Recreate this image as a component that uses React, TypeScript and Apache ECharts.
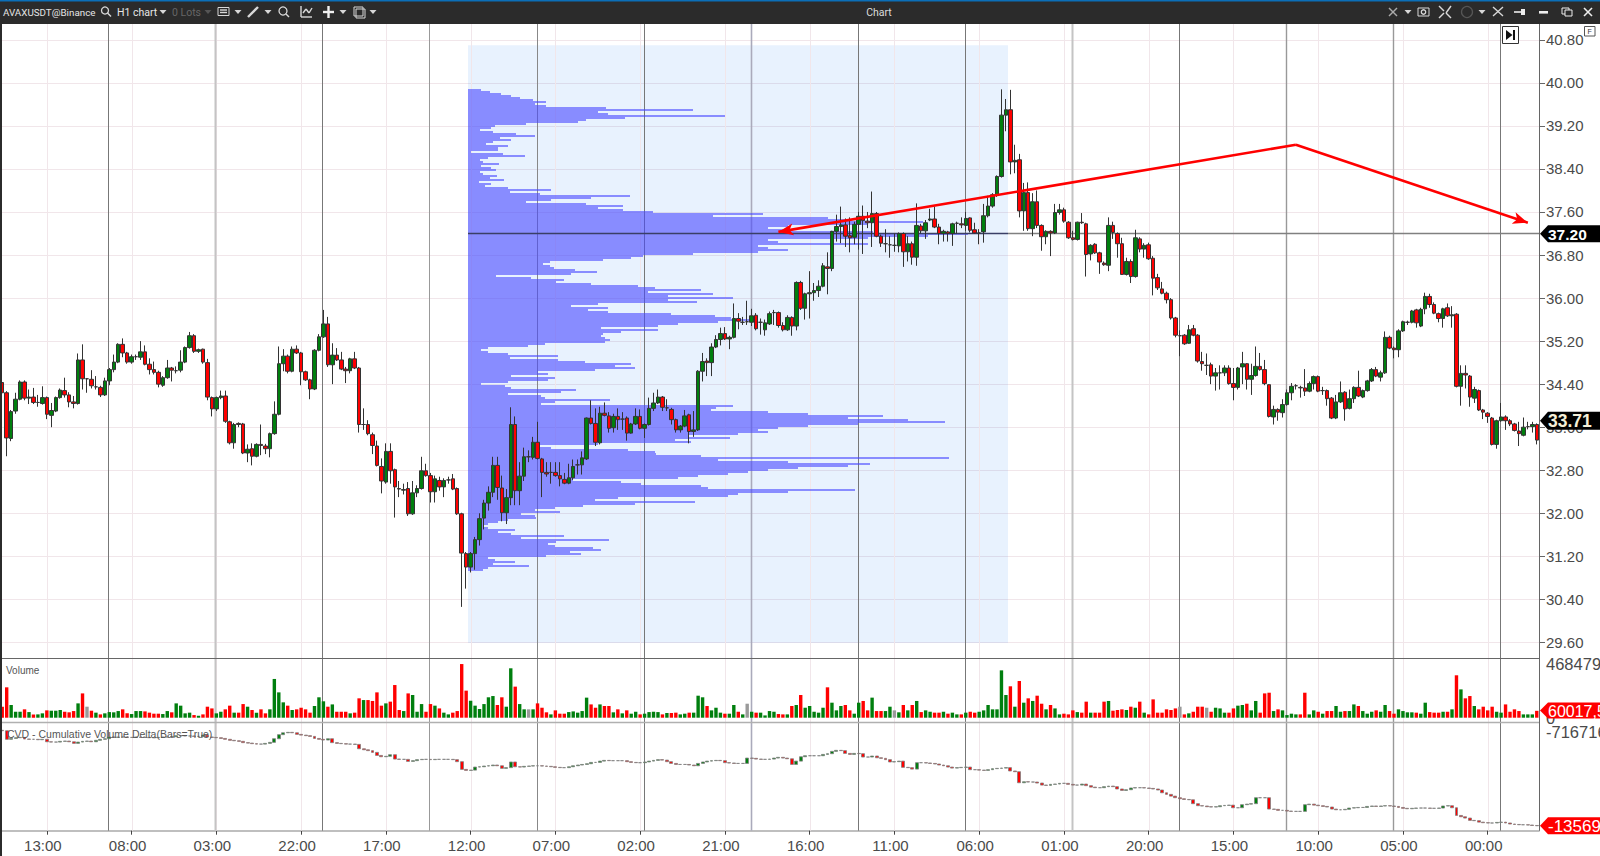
import React, { useEffect, useRef } from "react";
import * as echarts from "echarts";

const opens = [
34.43,34.24,33.39,33.90,34.12,34.44,34.14,34.16,34.06,34.04,
34.15,33.82,33.90,34.15,34.28,34.20,34.07,34.04,34.85,34.50,
34.49,34.35,34.34,34.20,34.46,34.67,34.81,35.14,34.98,34.81,
34.91,34.90,35.00,34.77,34.67,34.62,34.38,34.52,34.70,34.65,
34.66,34.81,35.08,35.30,35.01,35.05,34.80,34.15,33.94,34.15,
34.18,33.70,33.31,33.67,33.66,33.12,33.20,33.06,33.28,33.25,
33.20,33.48,33.84,34.78,34.92,34.64,35.05,34.98,34.63,34.48,
34.31,35.03,35.28,35.52,34.76,34.94,34.85,34.68,34.65,34.87,
34.70,33.65,33.65,33.46,33.25,32.87,32.58,33.15,32.81,32.46,
32.43,32.46,31.99,32.38,32.46,32.79,32.70,32.40,32.61,32.49,
32.62,32.64,32.46,31.99,31.25,31.00,31.25,31.51,31.91,32.19,
32.39,32.89,32.47,32.01,32.29,33.65,32.42,32.69,33.05,33.04,
33.32,33.01,32.76,32.76,32.76,32.70,32.63,32.56,32.66,32.90,
32.90,33.01,33.77,33.67,33.31,33.86,33.81,33.59,33.80,33.75,
33.77,33.49,33.66,33.80,33.58,33.65,33.95,34.05,34.16,33.96,
33.93,33.74,33.55,33.62,33.83,33.52,33.55,34.64,34.83,34.80,
35.09,35.23,35.34,35.24,35.27,35.62,35.55,35.56,35.55,35.68,
35.55,35.41,35.52,35.73,35.73,35.49,35.41,35.64,35.48,36.29,
35.81,36.08,36.10,36.14,36.22,36.58,36.55,37.24,37.33,37.36,
37.16,37.13,37.37,37.52,37.43,37.40,37.57,37.15,37.01,36.99,
36.98,36.97,37.20,36.86,37.01,36.76,37.34,37.25,37.45,37.47,
37.32,37.20,37.23,37.20,37.39,37.38,37.35,37.49,37.27,37.21,
37.23,37.53,37.71,37.92,38.26,39.40,39.50,38.53,38.57,37.62,
37.96,37.29,37.79,37.35,37.14,37.24,37.21,37.59,37.64,37.41,
37.12,37.09,37.41,37.38,36.82,37.00,36.84,36.65,36.61,37.35,
37.20,37.01,36.44,36.68,36.40,37.10,36.91,36.99,36.74,36.38,
36.17,36.09,35.97,35.63,35.30,35.31,35.16,35.43,35.31,34.82,
34.75,34.76,34.55,34.61,34.61,34.70,34.41,34.34,34.72,34.78,
34.49,34.56,34.73,34.67,34.39,33.79,33.93,33.87,34.02,34.24,
34.37,34.34,34.33,34.27,34.41,34.54,34.28,34.28,34.14,33.77,
34.07,34.25,33.95,34.13,34.34,34.16,34.28,34.46,34.67,34.53,
34.61,35.27,35.07,35.04,35.39,35.55,35.55,35.78,35.48,35.80,
36.03,35.88,35.71,35.62,35.82,35.67,35.70,34.36,34.60,34.55,
34.14,34.28,33.92,33.86,33.77,33.28,33.72,33.79,33.72,33.66,
33.53,33.45,33.61,33.61,33.65];

const closes = [
34.24,33.40,33.89,34.12,34.44,34.14,34.16,34.06,34.06,34.15,
33.84,33.91,34.15,34.29,34.20,34.07,34.04,34.85,34.50,34.50,
34.37,34.35,34.20,34.46,34.67,34.81,35.14,34.98,34.81,34.91,
34.91,35.00,34.77,34.67,34.62,34.40,34.52,34.70,34.66,34.65,
34.81,35.08,35.30,35.01,35.04,34.81,34.16,33.94,34.15,34.18,
33.71,33.31,33.65,33.65,33.12,33.19,33.06,33.28,33.26,33.20,
33.48,33.84,34.78,34.92,34.64,35.05,34.98,34.63,34.48,34.31,
35.03,35.28,35.52,34.76,34.94,34.85,34.68,34.65,34.87,34.70,
33.65,33.65,33.48,33.26,32.89,32.60,33.15,32.79,32.49,32.45,
32.44,31.99,32.38,32.46,32.79,32.70,32.40,32.64,32.49,32.61,
32.62,32.45,31.99,31.26,31.00,31.25,31.51,31.90,32.19,32.39,
32.89,32.48,32.01,32.29,33.65,32.42,32.69,33.05,33.05,33.32,
33.02,32.76,32.73,32.76,32.70,32.64,32.56,32.66,32.87,32.90,
33.03,33.77,33.67,33.32,33.86,33.82,33.58,33.80,33.74,33.75,
33.49,33.66,33.80,33.58,33.65,33.95,34.05,34.16,33.97,33.96,
33.74,33.55,33.62,33.81,33.52,33.55,34.64,34.82,34.80,35.09,
35.23,35.34,35.24,35.27,35.62,35.57,35.55,35.56,35.67,35.43,
35.55,35.54,35.71,35.73,35.49,35.41,35.64,35.48,36.29,35.81,
36.08,36.10,36.14,36.22,36.60,36.55,37.24,37.33,37.36,37.15,
37.12,37.37,37.52,37.44,37.40,37.57,37.15,37.02,37.01,36.99,
36.98,37.20,36.86,37.01,36.76,37.35,37.25,37.40,37.47,37.32,
37.20,37.24,37.20,37.38,37.39,37.36,37.48,37.26,37.21,37.21,
37.53,37.71,37.92,38.26,39.40,39.50,38.53,38.56,37.62,37.96,
37.29,37.79,37.35,37.14,37.24,37.21,37.59,37.64,37.43,37.12,
37.09,37.41,37.40,36.81,36.98,36.84,36.67,36.62,37.35,37.22,
37.01,36.44,36.68,36.40,37.12,36.91,36.98,36.73,36.37,36.19,
36.09,35.97,35.63,35.31,35.30,35.15,35.41,35.31,34.83,34.78,
34.75,34.55,34.61,34.61,34.70,34.41,34.34,34.70,34.78,34.49,
34.56,34.73,34.67,34.41,33.80,33.93,33.88,34.02,34.24,34.36,
34.37,34.33,34.27,34.41,34.54,34.27,34.28,34.13,33.77,34.07,
34.24,33.94,34.13,34.34,34.18,34.28,34.46,34.67,34.55,34.61,
35.27,35.07,35.04,35.39,35.56,35.55,35.76,35.54,35.79,36.03,
35.88,35.72,35.62,35.80,35.67,35.69,34.36,34.60,34.57,34.16,
34.30,33.92,33.88,33.80,33.28,33.72,33.79,33.72,33.66,33.54,
33.48,33.60,33.61,33.65,33.36];

const highs = [
34.65,34.27,33.92,34.24,34.47,34.47,34.30,34.33,34.20,34.36,
34.17,34.05,34.17,34.32,34.52,34.25,34.18,34.97,35.14,34.51,
34.66,34.55,34.37,34.52,34.70,34.95,35.16,35.25,35.00,34.95,
34.95,35.20,35.12,34.88,34.82,34.65,34.55,34.85,34.72,34.73,
35.03,35.10,35.37,35.33,35.06,35.06,34.87,34.17,34.17,34.28,
34.28,33.72,33.68,33.69,33.68,33.28,33.30,33.30,33.65,33.29,
33.50,34.08,35.10,35.05,34.95,35.10,35.12,35.00,34.65,34.50,
35.05,35.33,35.78,35.65,35.16,35.07,35.00,34.72,34.89,35.00,
34.72,33.95,33.73,33.50,33.35,33.02,33.30,33.30,32.83,32.60,
32.55,32.58,32.60,32.52,33.05,32.92,32.75,32.70,32.68,32.65,
32.68,32.73,32.48,32.01,31.28,31.28,31.56,32.00,32.25,32.50,
33.05,33.05,32.70,32.45,33.97,33.80,32.95,33.22,33.17,33.42,
33.70,33.03,32.95,32.95,32.95,32.95,32.75,32.92,33.00,33.00,
33.15,33.78,34.10,33.95,33.98,34.06,33.88,33.85,33.95,33.88,
33.80,33.68,33.95,33.93,33.67,34.15,34.24,34.30,34.18,34.12,
33.96,33.76,33.64,33.92,33.85,33.90,34.66,34.98,34.88,35.16,
35.31,35.45,35.46,35.30,35.90,35.72,35.65,35.95,35.80,35.72,
35.62,35.60,35.75,35.78,35.75,35.55,35.68,35.66,36.31,36.32,
36.10,36.50,36.28,36.33,36.65,36.85,37.25,37.55,37.70,37.48,
37.50,37.42,37.60,37.72,37.60,37.98,37.60,37.18,37.28,37.15,
37.20,37.22,37.22,37.15,37.05,37.76,37.38,37.45,37.66,37.70,
37.38,37.27,37.25,37.40,37.42,37.50,37.60,37.50,37.40,37.28,
37.75,37.90,37.95,38.28,39.88,39.70,39.87,38.85,38.68,38.14,
38.15,37.95,38.00,37.37,37.26,37.26,37.75,37.75,37.68,37.43,
37.25,37.42,37.58,37.40,37.00,37.02,36.86,36.68,37.50,37.42,
37.22,37.12,36.75,36.72,37.27,37.13,37.02,37.03,36.78,36.45,
36.30,36.12,36.00,35.65,35.40,35.33,35.50,35.50,35.33,35.00,
34.97,34.80,34.70,34.75,34.75,34.75,34.70,34.72,35.00,34.79,
34.78,35.10,34.98,34.85,34.40,34.00,33.95,34.12,34.30,34.42,
34.40,34.37,34.68,34.45,34.56,34.56,34.35,34.30,34.16,34.20,
34.45,34.27,34.30,34.36,34.65,34.30,34.48,34.70,34.72,34.65,
35.38,35.30,35.10,35.42,35.58,35.58,35.78,35.80,35.82,36.10,
36.08,35.92,35.73,35.82,35.90,35.85,35.72,34.75,34.75,34.57,
34.35,34.30,33.94,33.88,33.79,33.74,34.05,33.82,33.75,33.68,
33.70,33.78,33.70,33.70,33.67];

const lows = [
34.20,33.06,33.34,33.85,34.10,34.10,34.03,34.03,33.98,34.02,
33.75,33.60,33.88,34.13,34.15,33.97,33.95,34.02,34.30,34.24,
34.32,34.30,34.16,34.18,34.38,34.62,34.79,34.90,34.78,34.78,
34.85,34.85,34.75,34.58,34.58,34.34,34.35,34.50,34.45,34.60,
34.62,34.79,35.06,34.98,34.98,34.78,34.10,33.80,33.90,34.12,
33.68,33.28,33.20,33.60,33.10,32.95,32.89,33.04,33.08,33.10,
33.04,33.46,33.82,34.64,34.60,34.62,34.96,34.38,34.46,34.12,
34.29,35.01,35.26,34.72,34.40,34.83,34.66,34.42,34.60,34.68,
33.50,33.55,33.45,33.10,32.87,32.37,32.55,32.55,31.92,32.30,
32.35,31.95,31.97,32.30,32.44,32.68,32.20,32.20,32.42,32.30,
32.55,32.43,31.97,30.26,30.60,30.90,30.95,31.40,31.70,32.05,
32.30,32.25,31.85,31.80,32.15,32.15,32.15,32.60,32.95,33.00,
33.00,32.30,32.68,32.55,32.68,32.50,32.54,32.54,32.62,32.72,
32.72,32.99,33.65,33.25,33.28,33.80,33.50,33.50,33.55,33.55,
33.35,33.48,33.64,33.56,33.40,33.63,33.90,34.03,33.90,33.90,
33.65,33.50,33.50,33.60,33.30,33.42,33.53,34.45,34.55,34.55,
35.07,35.12,35.22,35.05,35.25,35.42,35.50,35.50,35.48,35.40,
35.32,35.30,35.50,35.50,35.45,35.38,35.39,35.30,35.40,35.78,
35.60,35.62,35.95,36.02,36.20,36.07,36.50,37.05,37.02,36.95,
36.85,37.00,36.90,36.82,37.30,36.95,37.13,36.95,36.85,36.75,
36.86,36.85,36.58,36.68,36.62,36.60,37.20,37.10,37.43,37.30,
37.00,37.05,37.05,36.97,37.20,37.30,37.25,37.22,37.20,37.00,
37.03,37.50,37.68,37.88,38.24,39.10,38.30,38.32,37.50,37.25,
37.25,37.15,37.30,36.88,37.00,36.78,37.19,37.55,37.40,37.10,
37.07,37.07,37.38,36.40,36.70,36.82,36.45,36.60,36.50,37.10,
36.75,36.43,36.42,36.28,36.38,36.85,36.75,36.71,36.05,36.15,
36.07,35.90,35.60,35.27,34.92,35.13,35.15,35.29,34.80,34.65,
34.57,34.40,34.28,34.30,34.55,34.39,34.10,34.30,34.40,34.30,
34.20,34.54,34.65,34.38,33.78,33.65,33.72,33.78,34.00,34.10,
34.30,34.15,34.18,34.25,34.30,34.25,34.20,34.00,33.75,33.75,
34.05,33.72,33.93,34.05,34.16,34.14,34.26,34.44,34.53,34.45,
34.59,35.05,34.88,34.90,35.37,35.50,35.53,35.45,35.46,35.70,
35.82,35.70,35.55,35.45,35.65,35.45,34.34,34.00,34.32,33.98,
34.05,33.90,33.75,33.68,33.26,33.20,33.70,33.55,33.62,33.52,
33.25,33.43,33.56,33.50,33.28];

// thousands of contracts
const volumesK = [
96,265,111,52,52,73,49,29,29,38,
64,61,61,67,52,47,58,125,212,96,
61,44,29,38,49,47,58,73,38,32,
58,58,55,44,35,35,32,58,47,125,
105,38,44,23,17,29,96,81,38,52,
73,105,44,44,119,96,67,44,73,38,
73,338,221,134,105,67,73,87,73,44,
102,178,143,96,116,52,52,52,38,44,
169,154,154,146,221,105,125,140,285,67,
58,212,198,52,119,52,119,105,81,44,
29,44,58,468,236,148,105,76,119,178,
189,111,178,96,431,271,119,73,73,73,
125,87,47,29,64,35,35,49,55,44,
58,175,116,87,116,102,102,47,73,38,
64,35,52,29,35,49,52,49,29,41,
41,44,29,35,44,44,192,178,102,64,
87,44,35,35,111,52,29,122,52,44,
44,20,58,52,32,29,29,102,111,198,
87,102,52,44,87,265,131,64,102,111,
64,35,131,146,64,175,58,58,58,96,
64,47,111,64,111,146,49,64,52,44,
44,52,35,44,29,29,44,52,44,52,
64,111,73,73,413,198,274,96,320,131,
169,146,192,122,73,111,81,29,35,29,
64,49,44,140,44,44,44,140,146,61,
67,73,67,96,87,140,44,29,160,44,
44,73,67,81,96,29,38,52,96,96,
87,52,87,81,44,44,81,105,111,122,
64,146,44,212,218,58,73,64,23,35,
29,29,218,29,64,52,35,58,58,102,
52,58,58,116,102,58,35,52,64,52,
111,58,35,73,58,47,47,44,35,131,
49,44,44,52,52,73,370,247,169,189,
102,73,96,64,96,52,44,116,52,73,
58,29,29,29,60];

const greyVolumeBars = [19, 118, 167, 200, 264, 270];

// cumulative delta at each bar's close, in thousands
const cvdCloseK = [
-708,-767,-761,-756,-754,-765,-767,-767,-770,-767,
-784,-786,-786,-781,-779,-784,-795,-786,-781,-779,
-784,-774,-767,-763,-751,-754,-751,-751,-754,-754,
-751,-754,-754,-756,-756,-754,-751,-751,-749,-742,
-742,-744,-744,-747,-747,-738,-751,-754,-756,-761,
-767,-774,-777,-781,-790,-793,-797,-800,-800,-795,
-788,-763,-735,-722,-719,-722,-733,-738,-742,-747,
-761,-767,-772,-763,-790,-795,-797,-800,-800,-802,
-832,-839,-845,-857,-878,-887,-884,-873,-903,-905,
-905,-919,-914,-907,-905,-905,-907,-905,-905,-905,
-905,-907,-921,-974,-981,-979,-958,-956,-951,-949,
-944,-949,-967,-962,-923,-956,-958,-953,-951,-949,
-949,-951,-953,-956,-960,-962,-962,-956,-949,-944,
-940,-935,-926,-926,-917,-912,-914,-914,-914,-914,
-921,-926,-928,-928,-923,-917,-912,-907,-910,-921,
-933,-940,-940,-940,-944,-949,-933,-923,-917,-914,
-912,-914,-928,-930,-933,-933,-933,-896,-898,-903,
-905,-905,-903,-896,-891,-896,-901,-940,-917,-887,
-880,-880,-880,-880,-871,-866,-850,-843,-845,-864,
-871,-864,-866,-889,-889,-882,-894,-898,-907,-923,
-921,-917,-960,-962,-972,-928,-928,-930,-933,-937,
-944,-949,-958,-965,-962,-960,-958,-976,-976,-979,
-981,-976,-969,-967,-965,-962,-985,-990,-1066,-1059,
-1061,-1061,-1068,-1082,-1084,-1077,-1075,-1070,-1070,-1077,
-1082,-1082,-1075,-1086,-1096,-1100,-1100,-1093,-1089,-1093,
-1109,-1119,-1114,-1102,-1100,-1100,-1102,-1105,-1109,-1116,
-1135,-1146,-1158,-1169,-1176,-1181,-1183,-1210,-1224,-1226,
-1231,-1233,-1231,-1224,-1222,-1220,-1238,-1238,-1217,-1213,
-1210,-1169,-1169,-1169,-1247,-1249,-1256,-1256,-1261,-1263,
-1263,-1263,-1217,-1213,-1220,-1224,-1229,-1233,-1247,-1252,
-1252,-1249,-1240,-1238,-1236,-1236,-1229,-1226,-1229,-1226,
-1224,-1226,-1229,-1236,-1242,-1245,-1242,-1240,-1240,-1240,
-1242,-1242,-1240,-1226,-1224,-1238,-1291,-1300,-1309,-1325,
-1327,-1337,-1341,-1343,-1343,-1339,-1337,-1343,-1350,-1353,
-1355,-1355,-1357,-1360,-1362];

// Volume profile: width of each price row, from the top of the profile downwards
const profileWidths = [
13,22,33,43,52,65,78,67,78,138,225,130,140,257,157,118,110,58,27,23,
12,25,48,67,32,43,25,18,40,30,30,3,35,57,20,12,15,31,13,23,
28,12,15,29,22,36,11,23,17,40,83,42,72,162,123,83,58,118,155,130,
155,185,295,245,360,380,455,400,320,300,320,405,500,460,400,300,310,400,290,300,
320,290,225,175,163,135,82,75,82,86,107,129,103,28,63,96,88,123,170,187,
233,180,245,200,265,200,229,130,103,140,120,140,203,247,263,290,
250,210,190,133,190,153,135,133,137,142,137,77,60,20,13,20,40,90,42,90,
117,163,147,167,127,70,80,43,87,80,40,13,37,43,108,93,40,73,77,142,
87,73,265,248,243,300,340,415,380,440,477,390,340,310,290,300,270,220,262,207,
223,130,70,83,160,187,188,233,481,250,320,402,380,330,300,280,260,230,210,105,
153,173,233,240,387,320,270,260,150,127,227,167,115,87,67,92,53,67,68,40,
30,20,15,20,47,30,43,96,53,141,88,80,87,125,133,102,113,78,20,27,
47,25,61,20,15];
const profileTopPrice = 39.868;
const profileRowStep = 0.03717;
const profileSpan = 540;
const profileBoxTop = 40.70;
const profileBoxBottom = 29.59;
const pocPrice = 37.2;

const priceTicks = [29.6,30.4,31.2,32.0,32.8,33.6,34.4,35.2,36.0,36.8,37.6,38.4,39.2,40.0,40.8];
const priceMin = 29.31;
const priceMax = 41.094;
const timeTickBars = [10,29,48,67,86,105,124,143,162,181,200,219,238,257,276,295,314,333];
const timeTickLabels = ["13:00","08:00","03:00","22:00","17:00","12:00","07:00","02:00","21:00","16:00","11:00","06:00","01:00","20:00","15:00","10:00","05:00","00:00"];
const dayLineBars = [24,48,72,96,120,144,168,192,216,240,264,288,312,336];
const dayLineColors = ["#777","#c4c4c4","#777","#999","#888","#777","#aab","#777","#777","#c4c4c4","#777","#999","#999","#777"];
const dayLineWidths = [1,2,1,1,1,1,1.6,1,1,2,1,1.4,1.4,1];
const arrowA = [174, 37.23];
const arrowB = [290, 38.85];
const arrowC = [342, 37.40];

const UP = "#007f0e";
const DOWN = "#ff0000";
const TEXT = "#4a4a4a";

const categories = opens.map((_, i) => {
  const k = timeTickBars.indexOf(i);
  return k >= 0 ? timeTickLabels[k] : String(i);
});

function verticals(g: number, yRef: number, z: number) {
  const items: any[] = [];
  timeTickBars.forEach((b) => items.push([b, yRef, "#f1e6ea", 1, 0]));
  dayLineBars.forEach((b, k) => items.push([b, yRef, dayLineColors[k], dayLineWidths[k], -1]));
  return {
    type: "custom",
    xAxisIndex: g,
    yAxisIndex: g,
    silent: true,
    z,
    encode: { x: 0, y: 1 },
    data: items.map((d) => d.slice(0, 2)),
    renderItem: (params: any, api: any) => {
      const d = items[params.dataIndex];
      const x = Math.round(api.coord([api.value(0), api.value(1)])[0] + d[4]) + 0.5;
      const cs = params.coordSys;
      return {
        type: "line",
        shape: { x1: x, y1: cs.y, x2: x, y2: cs.y + cs.height },
        style: { stroke: d[2], lineWidth: d[3] },
      };
    },
  };
}

function chromeElements() {
  const els: any[] = [];
  const C = "#d8d8d8";
  const tri = (x: number, c = C) =>
    els.push({ type: "polygon", z: 200, shape: { points: [[x - 3.5, 10], [x + 3.5, 10], [x, 14]] }, style: { fill: c } });
  const rect = (x: number, y: number, w: number, h: number, fill: string, z = 200, stroke?: string) =>
    els.push({ type: "rect", z, shape: { x, y, width: w, height: h }, style: { fill, stroke } });
  const line = (x1: number, y1: number, x2: number, y2: number, c = C, w = 1.4, z = 200) =>
    els.push({ type: "line", z, shape: { x1, y1, x2, y2 }, style: { stroke: c, lineWidth: w } });
  const circ = (cx: number, cy: number, r: number, c = C) =>
    els.push({ type: "circle", z: 200, shape: { cx, cy, r }, style: { fill: "none", stroke: c, lineWidth: 1.3 } });
  const label = (text: string, x: number, y: number, fill: string, size: number, extra: any = {}) =>
    els.push({ type: "text", z: 200, x, y, style: { text, fill, font: `${size}px Roboto, sans-serif`, textVerticalAlign: "middle", ...extra } });

  rect(0, 0, 1600, 24, "#2b2b2b", 190);
  rect(0, 0, 1600, 1.5, "#0b6fb8", 191);
  rect(0, 24, 2, 832, "#2b2b2b", 190);

  label("AVAXUSDT@Binance", 3, 12, "#e6e6e6", 9.8);
  circ(105, 10.5, 3.5); line(107.5, 13, 111, 16.5);
  label("H1 chart", 117, 12, "#e6e6e6", 10.5);
  tri(163);
  label("0 Lots", 172, 12, "#666666", 10.5);
  tri(208, "#555");
  rect(218, 7.5, 11, 8, "none", 200, C); line(220, 10, 227, 10); line(220, 12.5, 227, 12.5);
  tri(238);
  line(248, 17, 258, 7, C, 2.4);
  tri(268);
  circ(283, 11, 4); line(286, 14, 289, 17);
  line(301, 6, 301, 17); line(301, 17, 312, 17); line(303, 13, 306, 9); line(306, 9, 309, 13); line(309, 13, 312, 8);
  line(323, 12, 334, 12, "#f0f0f0", 2.4); line(328.5, 6, 328.5, 18, "#f0f0f0", 2.4);
  tri(343);
  rect(354, 7, 9, 9, "none", 200, C); rect(356, 9, 9, 9, "none", 200, C);
  tri(373);

  label("Chart", 879, 12, "#dcdcdc", 10.5, { textAlign: "center" });

  line(1389, 8, 1397, 16, "#aaa"); line(1397, 8, 1389, 16, "#aaa");
  tri(1408);
  rect(1418, 8, 11, 8, "none", 200, C); circ(1423.5, 12, 2.2);
  line(1439, 6, 1444, 11); line(1451, 6, 1446, 13); line(1439, 18, 1444, 13); line(1451, 18, 1446, 13);
  circ(1467, 12, 5.5, "#555");
  tri(1482);
  line(1493, 16, 1503, 7); line(1493, 7, 1503, 16);
  line(1514, 12, 1525, 12, "#eee", 1.6); rect(1521, 9, 4, 6, "#eee");
  rect(1539, 11, 9, 2.6, "#eee");
  rect(1562, 8, 7, 6, "none", 200, "#eee"); rect(1565, 10, 7, 6, "#2b2b2b", 200, "#eee");
  line(1584, 8, 1592, 16, "#eee", 1.6); line(1592, 8, 1584, 16, "#eee", 1.6);

  // panel separators
  line(2, 658.5, 1539, 658.5, "#666666", 1, 110);
  line(2, 722.5, 1539, 722.5, "#b0b0b0", 1.6, 110);

  // chart corner buttons
  rect(1502.5, 26.5, 16, 17, "#ffffff", 120, "#333");
  els.push({ type: "polygon", z: 121, shape: { points: [[1506, 30], [1506, 40], [1512.5, 35]] }, style: { fill: "#111" } });
  rect(1513, 30, 2, 10, "#111", 121);
  rect(1584.5, 26.5, 10.5, 9.5, "#ffffff", 120, "#555");
  els.push({ type: "text", z: 121, x: 1589.7, y: 31.5, style: { text: "F", fill: "#333", font: '7px "Liberation Sans"', textAlign: "center", textVerticalAlign: "middle" } });

  // panel captions
  els.push({ type: "text", z: 120, x: 6, y: 670, style: { text: "Volume", fill: "#555", font: '10px "Liberation Sans", sans-serif', textVerticalAlign: "middle" } });
  els.push({ type: "text", z: 120, x: 7, y: 734, style: { text: "CVD - Cumulative Volume Delta(Bars=True)", fill: "#555", font: '10.5px "Liberation Sans", sans-serif', textVerticalAlign: "middle" } });

  // price tags on the right axis
  const tag = (y: number, hh: number, fill: string, text: string, color: string, size: number, weight: string) => {
    els.push({ type: "polygon", z: 130, shape: { points: [[1540, y], [1548, y - hh], [1600, y - hh], [1600, y + hh], [1548, y + hh]] }, style: { fill } });
    els.push({ type: "text", z: 131, x: 1548, y: y + 0.5, style: { text, fill: color, font: `${weight} ${size}px "Liberation Sans", sans-serif`, textVerticalAlign: "middle" } });
  };
  tag(233.7, 8.5, "#000000", "37.20", "#ffffff", 15.5, "bold");
  tag(420.8, 9, "#000000", "33.71", "#f4efd8", 17.5, "bold");
  tag(710.5, 8, "#ff0000", "60017,5", "#ffffff", 16, "normal");
  tag(825.8, 8.5, "#ff0000", "-13569", "#ffffff", 17, "normal");
  return els;
}

export default function App() {
  const ref = useRef<HTMLDivElement>(null);
  useEffect(() => {
    const chart = echarts.init(ref.current!, undefined, { renderer: "svg" });
    const axisFont = { color: TEXT, fontSize: 15, fontFamily: '"Liberation Sans", sans-serif' };
    const sideFont = { ...axisFont, fontSize: 16.5 };
    const hiddenCat = (g: number) => ({
      type: "category",
      gridIndex: g,
      data: categories,
      boundaryGap: true,
      axisLine: { show: false },
      axisTick: { show: false },
      axisLabel: { show: false },
      splitLine: { show: false },
    });
    const arrowStyle = { color: "#ff0000", width: 2.6, type: "solid" as const, opacity: 1 };
    chart.setOption({
      animation: false,
      backgroundColor: "#ffffff",
      grid: [
        { left: 0, width: 1539, top: 24, height: 634, outerBoundsMode: "none" },
        { left: 0, width: 1539, top: 658, height: 64.7, outerBoundsMode: "none" },
        { left: 0, width: 1539, top: 722.7, height: 108, outerBoundsMode: "none" },
        { left: 468, width: profileSpan, top: 24, height: 634, outerBoundsMode: "none" },
      ],
      xAxis: [
        hiddenCat(0),
        hiddenCat(1),
        {
          type: "category",
          gridIndex: 2,
          data: categories,
          boundaryGap: true,
          axisLine: { show: true, lineStyle: { color: "#aaaaaa", width: 1.5 } },
          axisTick: { show: true, alignWithLabel: true, length: 4, lineStyle: { color: "#444" }, interval: (i: number) => timeTickBars.includes(i) },
          axisLabel: { ...axisFont, margin: 7, padding: [0, 8, 0, 0], interval: (i: number) => timeTickBars.includes(i) },
          splitLine: { show: false },
        },
        { type: "value", gridIndex: 3, min: 0, max: profileSpan, show: false },
      ],
      yAxis: [
        {
          type: "value",
          gridIndex: 0,
          position: "right",
          min: priceMin,
          max: priceMax,
          axisLine: { show: true, onZero: false, lineStyle: { color: "#666" } },
          axisTick: { show: true, length: 6, lineStyle: { color: "#666" }, customValues: priceTicks },
          axisLabel: { ...axisFont, margin: 7, customValues: priceTicks, formatter: (v: number) => v.toFixed(2) },
          splitLine: { show: true, lineStyle: { color: "#f1e6ea", width: 1 } },
        },
        {
          type: "value",
          gridIndex: 1,
          position: "right",
          min: -43.6,
          max: 520.8,
          axisLine: { show: true, onZero: false, lineStyle: { color: "#666" } },
          axisTick: { show: false, customValues: [0, 468.479] },
          axisLabel: { ...sideFont, margin: 7, customValues: [0, 468.479], formatter: (v: number) => String(Math.round(v * 1000)) },
          splitLine: { show: false },
        },
        {
          type: "value",
          gridIndex: 2,
          position: "right",
          min: -1396,
          max: -652.7,
          axisLine: { show: true, onZero: false, lineStyle: { color: "#666" } },
          axisTick: { show: false, customValues: [-716.716] },
          axisLabel: { ...sideFont, margin: 7, customValues: [-716.716], formatter: (v: number) => String(Math.round(v * 1000)) },
          splitLine: { show: false },
        },
        { type: "value", gridIndex: 3, min: priceMin, max: priceMax, show: false },
      ],
      series: [
        {
          type: "custom",
          name: "box",
          xAxisIndex: 3,
          yAxisIndex: 3,
          silent: true,
          z: 1,
          encode: { x: [0, 1], y: [2, 3] },
          data: [[0, profileSpan, profileBoxTop, profileBoxBottom]],
          renderItem: (_: any, api: any) => {
            const a = api.coord([api.value(0), api.value(2)]);
            const b = api.coord([api.value(1), api.value(3)]);
            return {
              type: "rect",
              shape: { x: a[0], y: a[1], width: b[0] - a[0], height: b[1] - a[1] },
              style: { fill: "rgba(25,125,245,0.10)" },
            };
          },
        },
        verticals(0, priceMin, 2),
        verticals(1, 0, 2),
        verticals(2, -1396, 2),
        {
          type: "custom",
          name: "profile",
          xAxisIndex: 3,
          yAxisIndex: 3,
          silent: true,
          z: 3,
          encode: { x: 0, y: 1 },
          data: profileWidths.map((w, k) => [w, profileTopPrice - k * profileRowStep]),
          renderItem: (_: any, api: any) => {
            const a = api.coord([0, api.value(1)]);
            const b = api.coord([api.value(0), api.value(1)]);
            return {
              type: "rect",
              shape: { x: a[0], y: Math.round(a[1]) - 1, width: b[0] - a[0], height: 2 },
              style: { fill: "rgba(72,72,255,0.6)" },
            };
          },
        },
        {
          type: "custom",
          name: "poc",
          xAxisIndex: 3,
          yAxisIndex: 3,
          silent: true,
          z: 4,
          encode: { x: 0, y: 1 },
          clip: false,
          data: [[0, pocPrice]],
          renderItem: (_: any, api: any) => {
            const a = api.coord([0, api.value(1)]);
            const b = api.coord([profileSpan, api.value(1)]);
            const c = 1539;
            return {
              type: "group",
              children: [
                { type: "line", shape: { x1: a[0], y1: a[1], x2: b[0], y2: b[1] }, style: { stroke: "#3a3f66", lineWidth: 1.5 } },
                { type: "line", shape: { x1: b[0], y1: b[1], x2: c, y2: b[1] }, style: { stroke: "#808080", lineWidth: 1.5 } },
              ],
            };
          },
        },
        {
          type: "candlestick",
          name: "AVAXUSDT",
          xAxisIndex: 0,
          yAxisIndex: 0,
          z: 5,
          barWidth: 4,
          silent: true,
          data: opens.map((o, i) => [o, closes[i], lows[i], highs[i]]),
          itemStyle: {
            color: UP,
            color0: DOWN,
            borderColor: "#333333",
            borderColor0: "#333333",
            borderColorDoji: "#333333",
            borderWidth: 1,
          },
          markLine: {
            silent: true,
            symbol: "none",
            label: { show: false },
            animation: false,
            z: 8,
            lineStyle: arrowStyle,
            data: [
              [
                { coord: arrowA, symbol: "arrow", symbolSize: [9, 15], lineStyle: arrowStyle },
                { coord: arrowB, symbol: "none" },
              ],
              [
                { coord: arrowB, symbol: "none", lineStyle: arrowStyle },
                { coord: arrowC, symbol: "arrow", symbolSize: [9, 15] },
              ],
            ],
          },
        },
        {
          type: "bar",
          name: "Volume",
          xAxisIndex: 1,
          yAxisIndex: 1,
          z: 5,
          barWidth: 3.4,
          silent: true,
          data: volumesK.map((v, i) => ({
            value: v,
            itemStyle: {
              color: greyVolumeBars.includes(i) ? "#9a9a9a" : closes[i] >= opens[i] ? UP : DOWN,
            },
          })),
        },
        {
          type: "candlestick",
          name: "CVD",
          xAxisIndex: 2,
          yAxisIndex: 2,
          z: 5,
          barWidth: 3.4,
          silent: true,
          data: cvdCloseK.map((c, i) => {
            const o = i === 0 ? c + 3 : cvdCloseK[i - 1];
            return [o, c, Math.min(o, c), Math.max(o, c)];
          }),
          itemStyle: {
            color: UP,
            color0: DOWN,
            borderColor: "#808080",
            borderColor0: "#808080",
            borderColorDoji: "#808080",
            borderWidth: 0.8,
          },
        },
      ],
      graphic: { elements: chromeElements() },
    });
    return () => chart.dispose();
  }, []);
  return <div ref={ref} style={{ position: "absolute", left: 0, top: 0, width: 1600, height: 856 }} />;
}
